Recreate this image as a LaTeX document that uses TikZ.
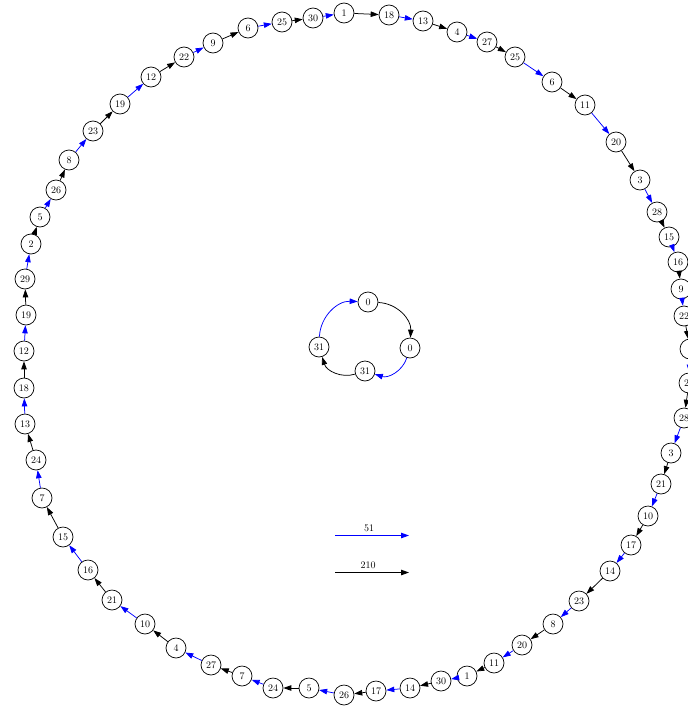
\documentclass[tikz,border=0pt]{standalone}
\usetikzlibrary{arrows.meta}
\begin{document}
\begin{tikzpicture}[x=1pt,y=-1pt,
  vtx/.style={draw,circle,line width=0.7pt,minimum size=20pt,inner sep=0.5pt,font=\normalsize},
  arr/.style={line width=0.75pt,-{Triangle[length=8pt,width=5.5pt]}},
  blk/.style={arr,draw=black},
  blu/.style={arr,draw=blue}]
\useasboundingbox (0,0) rectangle (688,707);
% outer ring, clockwise from top
\foreach \x/\y/\t [count=\k] in {
 344/13/1, 389/15/18, 423/21/13, 457/32/4, 487/42/27, 515/57/25, 552/82/6, 585/105/11,
 616/142/20, 640/180/3, 657/212/28, 669/237/15, 678/262/16, 681/289/9, 684/316/22, 690/349/2,
 689/383/29, 684/418/28, 671/453/3, 661/484/21, 648/516/10, 631/545/17, 610/571/14, 579/601/23,
 553/624/8, 522/645/20, 494/663/11, 467/676/1, 441/681/30, 410/688/14, 376/691/17, 344/695/26,
 309/688/5, 273/688/24, 242/676/7, 211/665/27, 176/648/4, 145/624/10, 112/600/21, 88/570/16,
 63/537/15, 42/498/7, 36/460/24, 25/424/13, 24/388/18, 24/351/12, 26/315/19, 25/279/29,
 31/244/2, 40/217/5, 56/190/26, 69/160/8, 93/131/23, 120/104/19, 151/77/12, 184/57/22,
 213/43/9, 248/28/6, 282/22/25, 313/18/30}
 \node[vtx] (o\k) at (\x,\y) {\t};
\foreach \i in {1,3,...,59} {\pgfmathtruncatemacro\j{\i+1}\draw[blk] (o\i) -- (o\j);}
\foreach \i in {2,4,...,60} {\pgfmathtruncatemacro\j{mod(\i,60)+1}\draw[blu] (o\i) -- (o\j);}
% inner cycle
\node[vtx] (ct) at (368,302) {0};
\node[vtx] (cr) at (410,348) {0};
\node[vtx] (cb) at (365,371) {31};
\node[vtx] (cl) at (319,347) {31};
\draw[blk] (ct) to[bend left=45] (cr);
\draw[blu] (cr) to[bend left=45] (cb);
\draw[blk] (cb) to[bend left=45] (cl);
\draw[blu] (cl) to[bend left=45] (ct);
% legend
\coordinate (la) at (335,535.5); \coordinate (lb) at (409,535.5);
\coordinate (ka) at (335,572.5); \coordinate (kb) at (409,572.5);
\draw[blu,line width=0.9pt] (la) -- (lb);
\draw[blk,line width=0.9pt] (ka) -- (kb);
\node[font=\normalsize,anchor=base] (t51) at (369,531) {51};
\node[font=\normalsize,anchor=base] (t210) at (368,568) {210};
\end{tikzpicture}
\end{document}
